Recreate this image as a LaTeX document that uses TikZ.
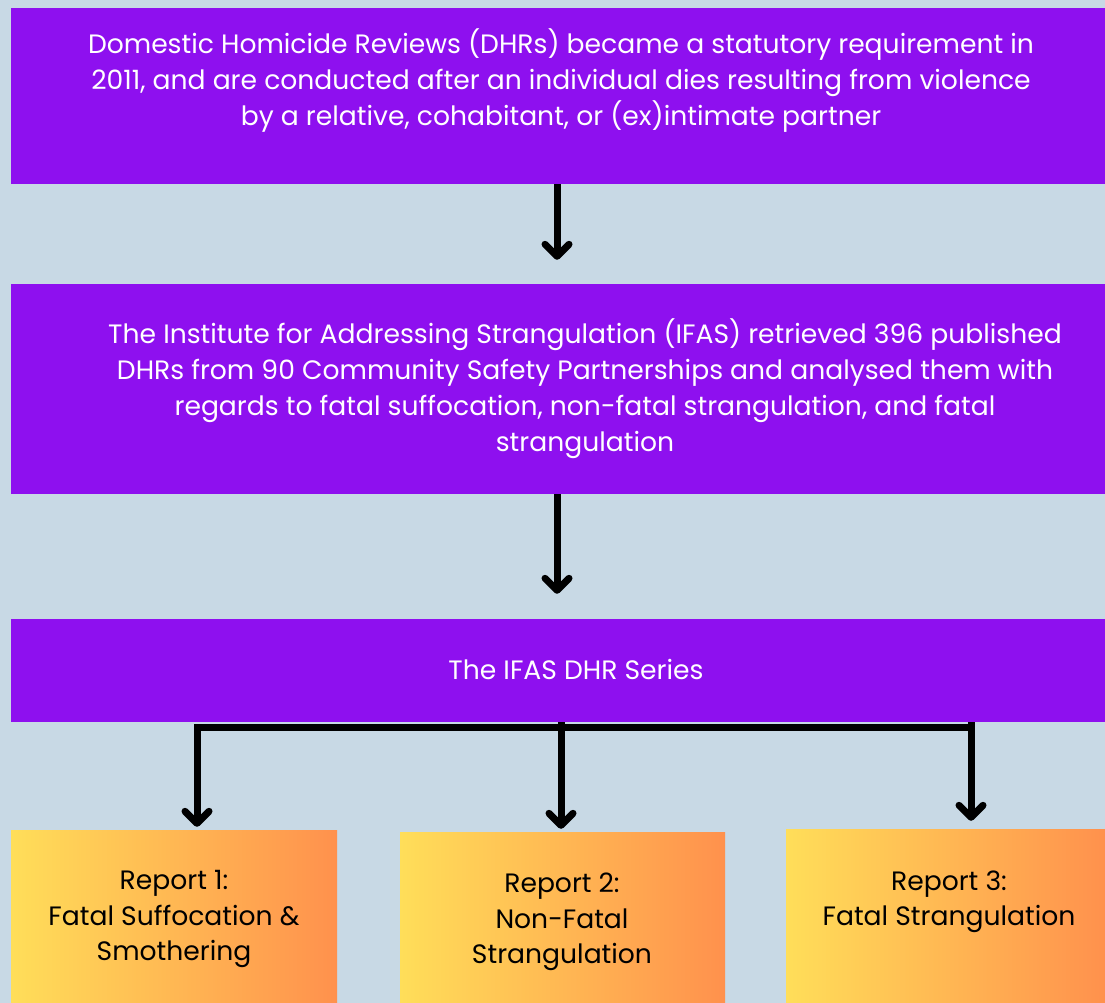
\documentclass[tikz,border=0pt]{standalone}
\usepackage{fontspec}
\setmainfont{Poppins}
\usetikzlibrary{arrows.meta}
\definecolor{bg}{HTML}{C8D9E5}
\definecolor{purp}{HTML}{8E10EF}
\definecolor{gyel}{HTML}{FFDE59}
\definecolor{gora}{HTML}{FF914D}
\tikzset{
  pbox/.style={rectangle, fill=purp, draw=none, inner sep=0pt},
  rbox/.style={rectangle, draw=none, inner sep=0pt, shading=axis, left color=gyel, right color=gora},
  wtxt/.style={text=white, align=center, font=\fontsize{26.6}{36}\selectfont, inner sep=0pt},
  btxt/.style={text=black, align=center, font=\fontsize{26.6}{35.5}\selectfont, inner sep=0pt},
  conn/.style={line width=7pt, draw=black, line join=miter},
  arr/.style={conn, -{Straight Barb[length=12pt,width=24pt,round]}}
}
\begin{document}
\begin{tikzpicture}[x=1pt,y=-1pt]
\fill[bg] (0,0) rectangle (1105,1003);
\useasboundingbox (0,0) rectangle (1105,1003);
% purple boxes
\node[pbox, minimum width=1094pt, minimum height=176pt] (b1) at (558,96) {};
\node[pbox, minimum width=1094pt, minimum height=210pt] (b2) at (558,389) {};
\node[pbox, minimum width=1094pt, minimum height=103pt] (b3) at (558,670.5) {};
% texts
\node[wtxt] (t1) at (561,81) {Domestic Homicide Reviews (DHRs) became a statutory requirement in\\2011, and are conducted after an individual dies resulting from violence\\by a relative, cohabitant, or (ex)intimate partner};
\node[wtxt] (t2) at (585,389) {The Institute for Addressing Strangulation (IFAS) retrieved 396 published\\DHRs from 90 Community Safety Partnerships and analysed them with\\regards to fatal suffocation, non-fatal strangulation, and fatal\\strangulation};
\node[wtxt] (t3) at (576,669) {The IFAS DHR Series};
% report boxes
\node[rbox, minimum width=326pt, minimum height=173pt] (r1) at (174,916.5) {};
\node[rbox, minimum width=325pt, minimum height=171pt] (r2) at (562.5,917.5) {};
\node[rbox, minimum width=319pt, minimum height=174pt] (r3) at (945.5,916) {};
\node[btxt] (u1) at (174,919) {Report 1:\\Fatal Suffocation \&\\Smothering};
\node[btxt] (u2) at (562,922) {Report 2:\\Non-Fatal\\Strangulation};
\node[btxt] (u3) at (949,902) {Report 3:\\Fatal Strangulation};
% connectors
\draw[arr, shorten >=24pt] (b1.south -| 557,0) -- (b2.north -| 557,0);
\draw[arr, shorten >=25pt] (b2.south -| 557,0) -- (b3.north -| 557,0);
\coordinate (j1) at (197,727);
\coordinate (j3) at (971,727);
\draw[arr, shorten >=3pt] (j3) -- (j1) -- (r1.north -| j1);
\draw[arr, shorten >=3pt] (b3.south -| 561,0) -- (r2.north -| 561,0);
\draw[arr, shorten >=8pt] (b3.south -| j3) -- (r3.north -| j3);
\end{tikzpicture}
\end{document}
